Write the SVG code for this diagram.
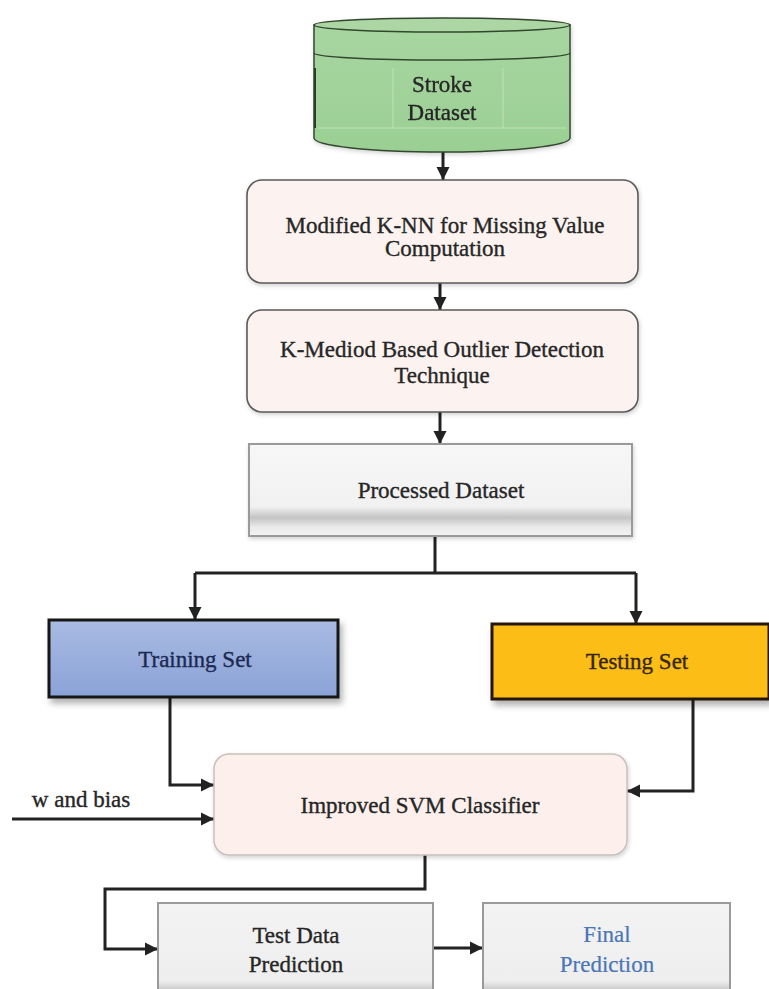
<svg xmlns="http://www.w3.org/2000/svg" width="769" height="989" viewBox="0 0 769 989">
<style>
.t{font-family:"Liberation Serif","Times New Roman",serif;font-size:23px;fill:#262626;stroke:#262626;stroke-width:0.35;text-anchor:middle}
.tb{fill:#1b2a52;stroke:#1b2a52}
.ty{fill:#35260c;stroke:#35260c}
.tf{fill:#4a76b6;stroke:#4a76b6;stroke-width:0.2}
.rnd{fill:#fcf3f0;stroke:#5a5a5a;stroke-width:1.6}
.gry{fill:url(#gGray);stroke:#9a9a9a;stroke-width:2}
.ln{fill:none;stroke:#222;stroke-width:3;stroke-linejoin:miter}
.arr{marker-end:url(#ah)}
</style>
<defs>
<marker id="ah" markerUnits="userSpaceOnUse" markerWidth="14" markerHeight="14" refX="13" refY="7" orient="auto">
<path d="M0,0.5 L13,7 L0,13.5 z" fill="#222"/>
</marker>
<linearGradient id="gGray" x1="0" y1="0" x2="0" y2="1">
<stop offset="0" stop-color="#f7f7f7"/>
<stop offset="0.68" stop-color="#f1f1f1"/>
<stop offset="0.8" stop-color="#c4c4c4"/>
<stop offset="0.9" stop-color="#e9e9e9"/>
<stop offset="1" stop-color="#f3f3f3"/>
</linearGradient>
<linearGradient id="gGray2" x1="0" y1="0" x2="0" y2="1">
<stop offset="0" stop-color="#f3f3f3"/>
<stop offset="0.78" stop-color="#eeeeee"/>
<stop offset="0.9" stop-color="#bdbdbd"/>
<stop offset="1" stop-color="#e2e2e2"/>
</linearGradient>
<linearGradient id="gBlue" x1="0" y1="0" x2="0" y2="1">
<stop offset="0" stop-color="#a9bbe3"/>
<stop offset="1" stop-color="#8aa2d6"/>
</linearGradient>
<linearGradient id="gGreen" x1="0" y1="0" x2="0" y2="1">
<stop offset="0" stop-color="#a8d6a1"/>
<stop offset="1" stop-color="#9acf93"/>
</linearGradient>
<filter id="sh" x="-10%" y="-10%" width="125%" height="135%">
<feDropShadow dx="3" dy="5" stdDeviation="3" flood-color="#000" flood-opacity="0.3"/>
</filter>
<filter id="sh2" x="-10%" y="-10%" width="125%" height="135%">
<feDropShadow dx="1" dy="2" stdDeviation="2" flood-color="#000" flood-opacity="0.18"/>
</filter>
</defs>

<g id="connectors">
<path class="ln arr" d="M443,152 V180"/>
<path class="ln arr" d="M440,283 V310"/>
<path class="ln arr" d="M440,412 V444"/>
<path class="ln" d="M435,536 V573 M195,573 H636"/>
<path class="ln arr" d="M195,573 V620"/>
<path class="ln arr" d="M636,573 V624"/>
<path class="ln arr" d="M170,697 V785 H214"/>
<path class="ln arr" d="M693,699 V791 H627"/>
<path class="ln arr" d="M12,819 H214"/>
<path class="ln arr" d="M425,855 V889 H105 V949 H158"/>
<path class="ln arr" d="M433,948 H483"/>
</g>

<g id="stroke-dataset" filter="url(#sh2)">
<path d="M314,25 V138 A128,14 0 0 0 570,138 V25 Z" fill="url(#gGreen)" stroke="#33472f" stroke-width="1.5"/>
<path d="M314,53 A128,7 0 0 0 570,53" fill="none" stroke="#33472f" stroke-width="1.5"/>
<ellipse cx="442" cy="25" rx="128" ry="7" fill="#acd7a5" stroke="#33472f" stroke-width="1.5"/>
<path d="M393,68 V128 M503,68 V128 M318,128 H566" stroke="#bfe2b9" stroke-width="1" fill="none"/>
<path d="M315,68 V128" stroke="#2a3a28" stroke-width="2"/>
<text class="t" x="442" y="92">Stroke</text>
<text class="t" x="442" y="120">Dataset</text>
</g>

<g id="knn">
<rect class="rnd" x="247" y="180" width="391" height="103" rx="15" filter="url(#sh2)"/>
<text class="t" x="445" y="233">Modified K-NN for Missing Value</text>
<text class="t" x="445" y="256">Computation</text>
</g>

<g id="kmediod">
<rect class="rnd" x="247" y="310" width="391" height="102" rx="15" filter="url(#sh2)"/>
<text class="t" x="442" y="357">K-Mediod Based Outlier Detection</text>
<text class="t" x="442" y="383">Technique</text>
</g>

<g id="processed">
<rect class="gry" x="249" y="444" width="383" height="92" filter="url(#sh2)"/>
<text class="t" x="441" y="498">Processed Dataset</text>
</g>

<g id="training">
<rect x="49" y="620" width="289" height="77" fill="url(#gBlue)" stroke="#161616" stroke-width="3" filter="url(#sh)"/>
<text class="t tb" x="195" y="667">Training Set</text>
</g>

<g id="testing">
<rect x="492" y="624" width="277" height="75" fill="#fbbd14" stroke="#24170c" stroke-width="3" filter="url(#sh)"/>
<text class="t ty" x="637" y="669">Testing Set</text>
</g>

<g id="w-bias">
<text class="t" x="81" y="807">w and bias</text>
</g>

<g id="svm">
<rect x="214" y="754" width="413" height="101" rx="15" fill="#fcefec" stroke="#c8c0bd" stroke-width="1.5" filter="url(#sh2)"/>
<text class="t" x="420" y="813">Improved SVM Classifier</text>
</g>

<g id="test-prediction">
<rect x="158" y="903" width="275" height="100" fill="url(#gGray2)" stroke="#9a9a9a" stroke-width="2"/>
<text class="t" x="296" y="943">Test Data</text>
<text class="t" x="296" y="972">Prediction</text>
</g>

<g id="final-prediction">
<rect x="483" y="903" width="247" height="100" fill="url(#gGray2)" stroke="#9a9a9a" stroke-width="2"/>
<text class="t tf" x="607" y="942">Final</text>
<text class="t tf" x="607" y="972">Prediction</text>
</g>
</svg>
